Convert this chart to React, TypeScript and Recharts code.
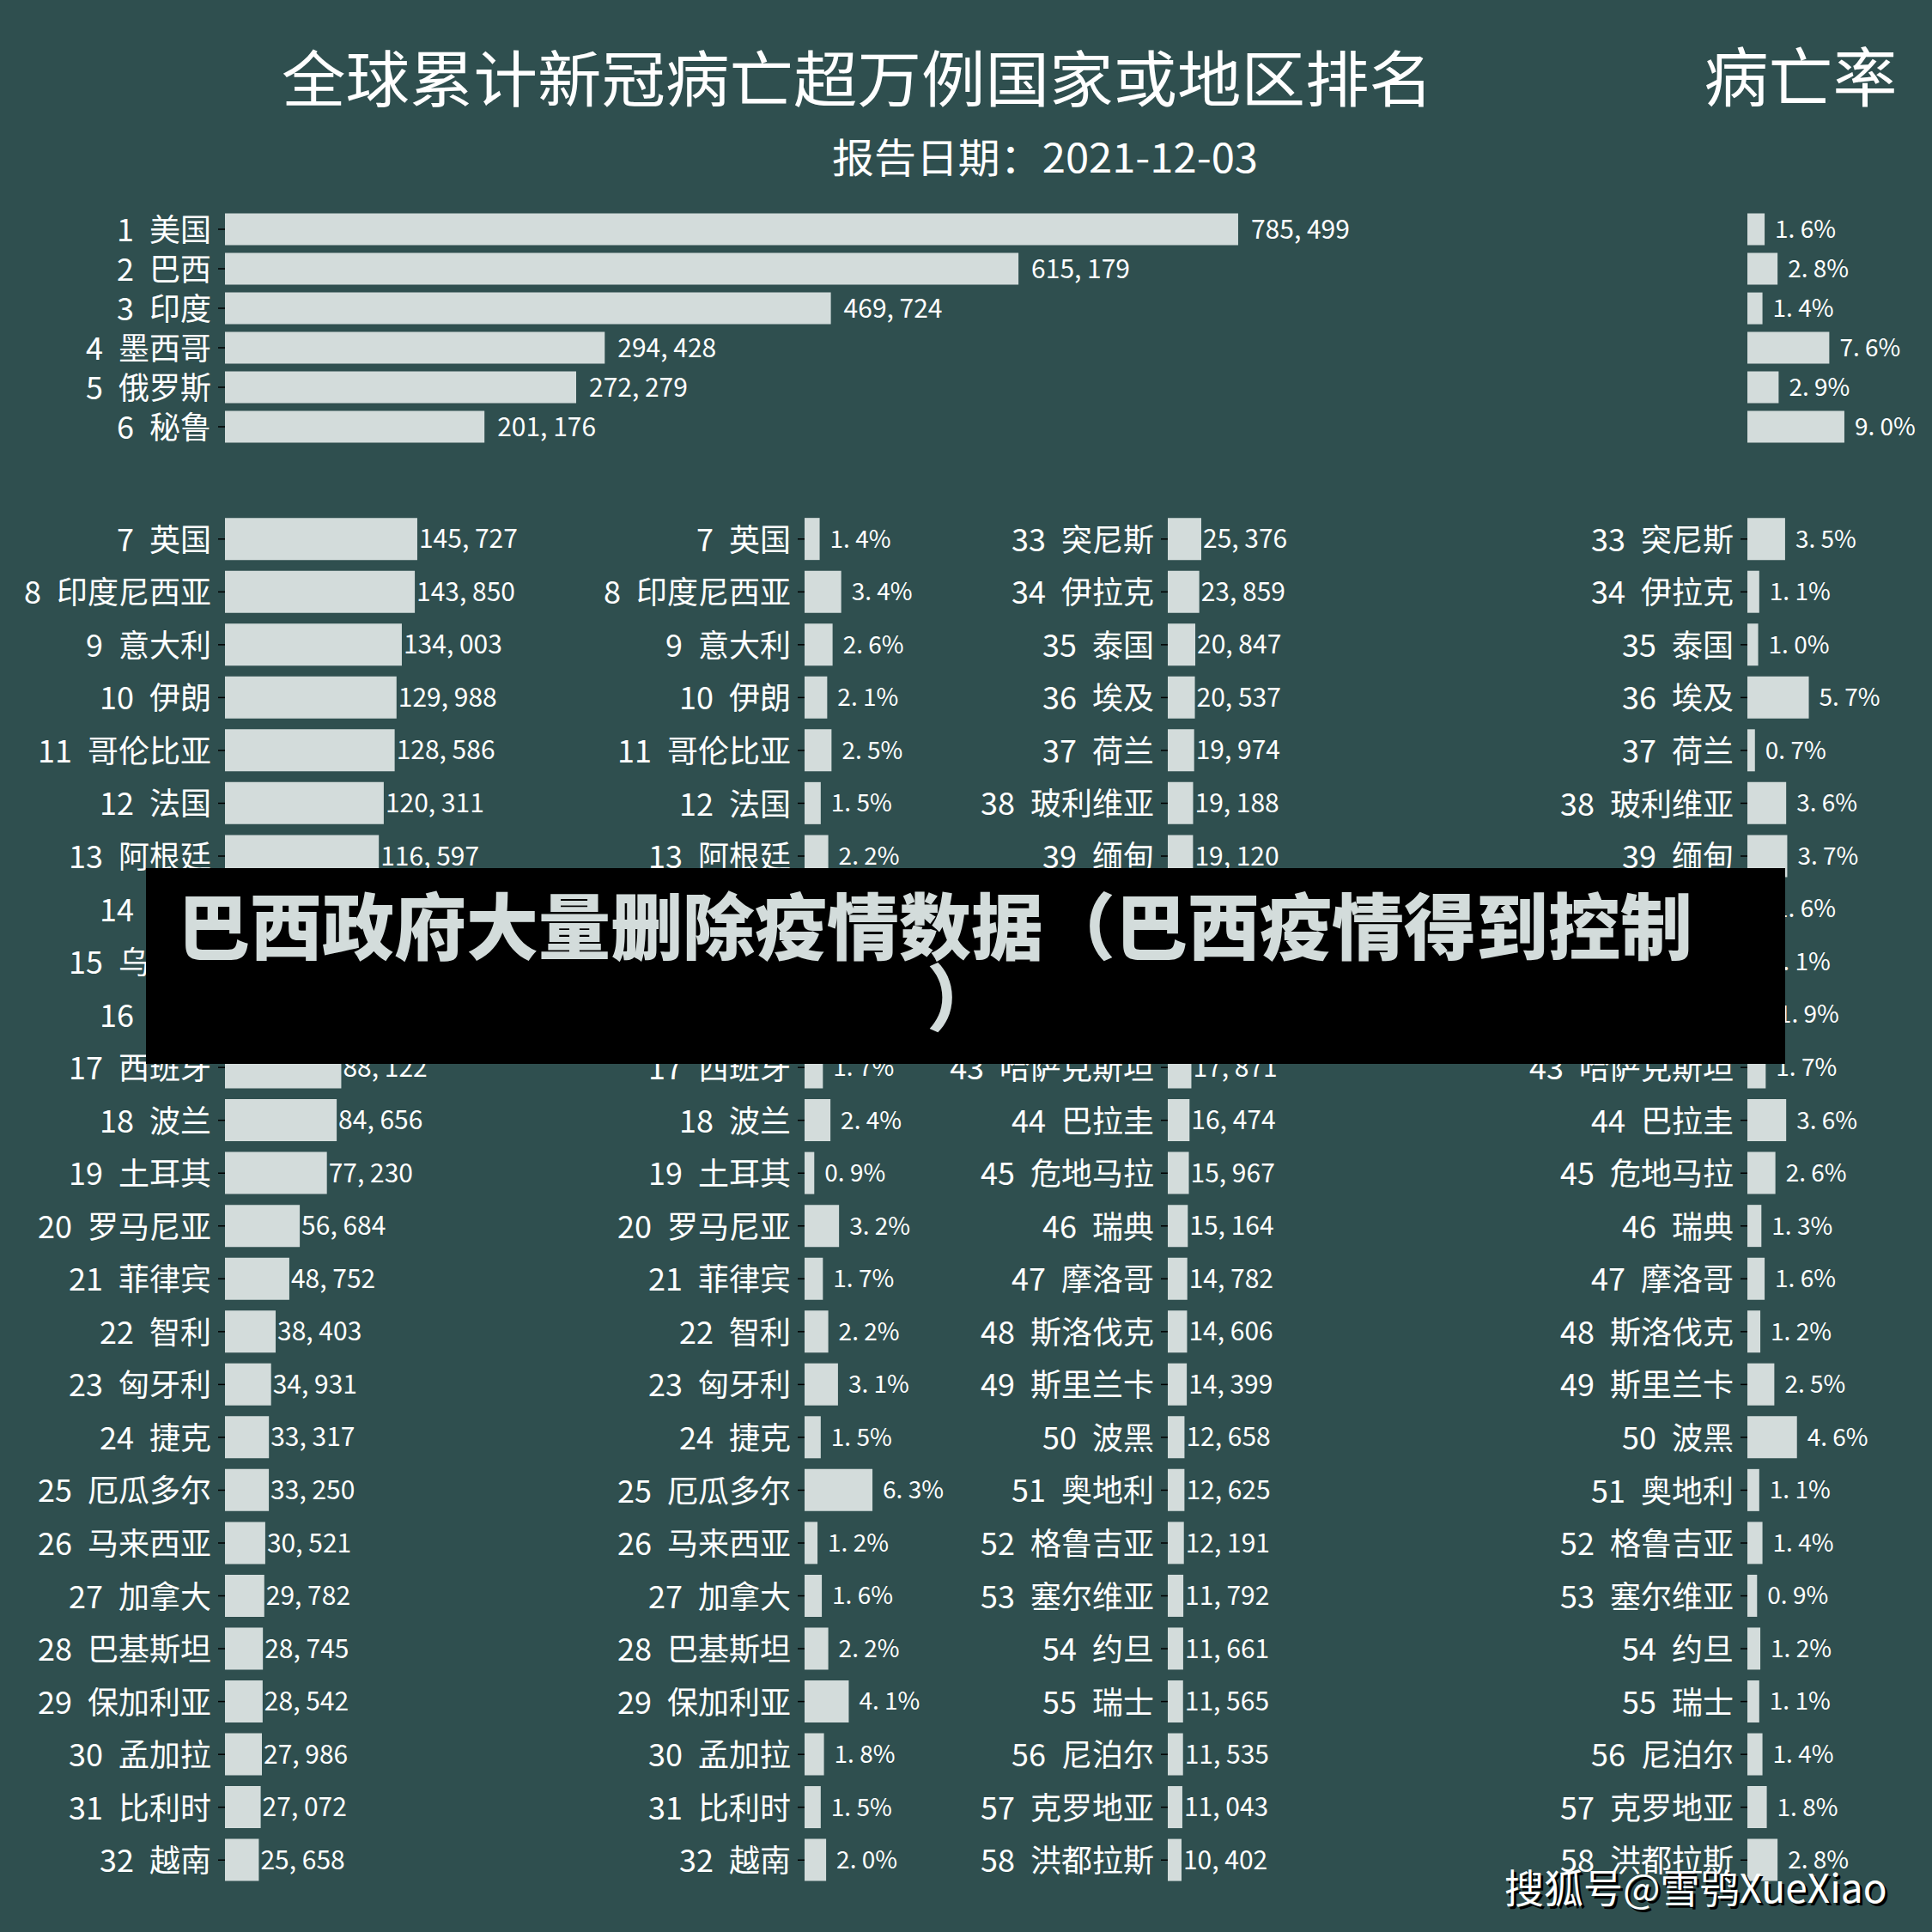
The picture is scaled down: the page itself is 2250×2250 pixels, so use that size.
import React from 'react';
import { BarChart, Bar, XAxis, YAxis, LabelList } from 'recharts';

const FONT = "'Noto Sans CJK SC', 'Noto Sans', sans-serif";
const BG = '#2F4F4F';
const BAR = '#D3DCDB';

// ---- data ----
const topNames = ['美国', '巴西', '印度', '墨西哥', '俄罗斯', '秘鲁'];
const topDeaths = [785499, 615179, 469724, 294428, 272279, 201176];
const topRates = [1.6, 2.8, 1.4, 7.6, 2.9, 9.0];

const leftNames = ['英国', '印度尼西亚', '意大利', '伊朗', '哥伦比亚', '法国', '阿根廷', '德国', '乌克兰', '南非', '西班牙', '波兰', '土耳其', '罗马尼亚', '菲律宾', '智利', '匈牙利', '捷克', '厄瓜多尔', '马来西亚', '加拿大', '巴基斯坦', '保加利亚', '孟加拉', '比利时', '越南'];
const leftDeaths = [145727, 143850, 134003, 129988, 128586, 120311, 116597, 101790, 91720, 89843, 88122, 84656, 77230, 56684, 48752, 38403, 34931, 33317, 33250, 30521, 29782, 28745, 28542, 27986, 27072, 25658];
const leftRates = [1.4, 3.4, 2.6, 2.1, 2.5, 1.5, 2.2, 1.7, 2.6, 3.0, 1.7, 2.4, 0.9, 3.2, 1.7, 2.2, 3.1, 1.5, 6.3, 1.2, 1.6, 2.2, 4.1, 1.8, 1.5, 2.0];

const rightNames = ['突尼斯', '伊拉克', '泰国', '埃及', '荷兰', '玻利维亚', '缅甸', '葡萄牙', '日本', '希腊', '哈萨克斯坦', '巴拉圭', '危地马拉', '瑞典', '摩洛哥', '斯洛伐克', '斯里兰卡', '波黑', '奥地利', '格鲁吉亚', '塞尔维亚', '约旦', '瑞士', '尼泊尔', '克罗地亚', '洪都拉斯'];
const rightDeaths = [25376, 23859, 20847, 20537, 19974, 19188, 19120, 18530, 18367, 18210, 17871, 16474, 15967, 15164, 14782, 14606, 14399, 12658, 12625, 12191, 11792, 11661, 11565, 11535, 11043, 10402];
const rightRates = [3.5, 1.1, 1.0, 5.7, 0.7, 3.6, 3.7, 1.6, 1.1, 1.9, 1.7, 3.6, 2.6, 1.3, 1.6, 1.2, 2.5, 4.6, 1.1, 1.4, 0.9, 1.2, 1.1, 1.4, 1.8, 2.8];

const TITLE = '全球累计新冠病亡超万例国家或地区排名';
const RATE_TITLE = '病亡率';
const SUBTITLE = '报告日期：2021-12-03';
const BANNER_1 = '巴西政府大量删除疫情数据（巴西疫情得到控制';
const BANNER_2 = '）';
const WATERMARK = '搜狐号@雪鸮XueXiao';

// ---- helpers ----
const makeRows = (names: string[], values: number[], startRank: number) =>
  names.map((n, i) => ({ label: `${startRank + i}\u2002${n}`, value: values[i] }));

const fmtDeaths = (v: number) => Number(v).toLocaleString('en-US').replace(/,/g, ', ');
const fmtRate = (v: number) => Number(v).toFixed(1).replace('.', '. ') + '%';

const CatTick = (props: any) => {
  const { x, y, payload } = props;
  return (
    <text x={x} y={y} dy="0.39em" textAnchor="end" fill="#FFFFFF" fontSize={36} fontFamily={FONT}>
      {payload.value}
    </text>
  );
};

const PAD = 20;

type ColProps = {
  rows: { label: string; value: number }[];
  left: number;
  top: number;
  axisWidth: number;
  plotWidth: number;
  extraRight: number;
  height: number;
  domainMax: number;
  showLabels: boolean;
  fmt: (v: number) => string;
  labelOffset: number;
  labelSize: number;
};

function Column({ rows, left, top, axisWidth, plotWidth, extraRight, height, domainMax, showLabels, fmt, labelOffset, labelSize }: ColProps) {
  return (
    <div style={{ position: 'absolute', left, top: top - PAD }}>
      <BarChart
        width={axisWidth + plotWidth + extraRight}
        height={height + 2 * PAD}
        data={rows}
        layout="vertical"
        margin={{ top: PAD, right: extraRight, bottom: PAD, left: 0 }}
        barCategoryGap="10%"
      >
        <XAxis type="number" domain={[0, domainMax]} hide />
        <YAxis
          type="category"
          dataKey="label"
          width={axisWidth}
          axisLine={false}
          tickLine={{ stroke: '#000000', strokeWidth: 1.5 }}
          tickSize={8}
          tickMargin={8}
          interval={0}
          tick={showLabels ? <CatTick /> : false}
        />
        <Bar dataKey="value" fill={BAR} isAnimationActive={false}>
          <LabelList
            dataKey="value"
            position="right"
            offset={labelOffset}
            formatter={(v: any) => fmt(Number(v))}
            fill="#FFFFFF"
            fontSize={labelSize}
            fontFamily={FONT}
          />
        </Bar>
      </BarChart>
    </div>
  );
}

const TOP_Y = 244.3;
const TOP_H = 276;
const LOW_Y = 597;
const LOW_H = 1600;
const DEATH_TOP_PX = 1502.2; // px for 1,000,000
const DEATH_LOW_PX = 307.4; // px for 200,000
const RATE_PX = 125.5; // px for 10%

export default function App() {
  const topRows = makeRows(topNames, topDeaths, 1);
  const topRateRows = makeRows(topNames, topRates, 1);
  const leftRows = makeRows(leftNames, leftDeaths, 7);
  const leftRateRows = makeRows(leftNames, leftRates, 7);
  const rightRows = makeRows(rightNames, rightDeaths, 33);
  const rightRateRows = makeRows(rightNames, rightRates, 33);

  return (
    <div style={{ position: 'absolute', left: 0, top: 0, width: 2250, height: 2250, background: BG, overflow: 'hidden', fontFamily: FONT }}>
      <Column rows={topRows} left={0} top={TOP_Y} axisWidth={262} plotWidth={DEATH_TOP_PX} extraRight={0} height={TOP_H} domainMax={1000000} showLabels fmt={fmtDeaths} labelOffset={15} labelSize={30} />
      <Column rows={topRateRows} left={2035 - 20} top={TOP_Y} axisWidth={20} plotWidth={RATE_PX} extraRight={90} height={TOP_H} domainMax={10} showLabels={false} fmt={fmtRate} labelOffset={12} labelSize={28} />

      <Column rows={leftRows} left={0} top={LOW_Y} axisWidth={262} plotWidth={DEATH_LOW_PX} extraRight={150} height={LOW_H} domainMax={200000} showLabels fmt={fmtDeaths} labelOffset={2} labelSize={30} />
      <Column rows={leftRateRows} left={937 - 300} top={LOW_Y} axisWidth={300} plotWidth={RATE_PX} extraRight={110} height={LOW_H} domainMax={10} showLabels fmt={fmtRate} labelOffset={12} labelSize={28} />
      <Column rows={rightRows} left={1360 - 300} top={LOW_Y} axisWidth={300} plotWidth={DEATH_LOW_PX} extraRight={120} height={LOW_H} domainMax={200000} showLabels fmt={fmtDeaths} labelOffset={2} labelSize={30} />
      <Column rows={rightRateRows} left={2035 - 300} top={LOW_Y} axisWidth={300} plotWidth={RATE_PX} extraRight={90} height={LOW_H} domainMax={10} showLabels fmt={fmtRate} labelOffset={12} labelSize={28} />

      <svg width={2250} height={2250} style={{ position: 'absolute', left: 0, top: 0, zIndex: 5, pointerEvents: 'none' }}>
        <text x={328} y={118} textAnchor="start" fill="#FFFFFF" fontSize={71} fontFamily={FONT} textLength={1341} lengthAdjust="spacingAndGlyphs">{TITLE}</text>
        <text x={2097} y={118} textAnchor="middle" fill="#FFFFFF" fontSize={75} fontFamily={FONT}>{RATE_TITLE}</text>
        <text x={969} y={201} textAnchor="start" fill="#FFFFFF" fontSize={47} fontFamily={FONT} textLength={496} lengthAdjust="spacingAndGlyphs">{SUBTITLE}</text>

        <rect x={170} y={1011} width={1909} height={228} fill="#000000" />
        <text x={207} y={1111} textAnchor="start" fill={BAR} fontSize={84} fontWeight={900} fontFamily={FONT}>{BANNER_1}</text>
        <text x={1079} y={1194} textAnchor="start" fill={BAR} fontSize={84} fontWeight={900} fontFamily={FONT}>{BANNER_2}</text>

        <text x={1755} y={2219} textAnchor="start" fill="#000000" fontSize={46} fontFamily={FONT}>{WATERMARK}</text>
        <text x={1752} y={2216} textAnchor="start" fill="#FFFFFF" fontSize={46} fontFamily={FONT}>{WATERMARK}</text>
      </svg>
    </div>
  );
}
